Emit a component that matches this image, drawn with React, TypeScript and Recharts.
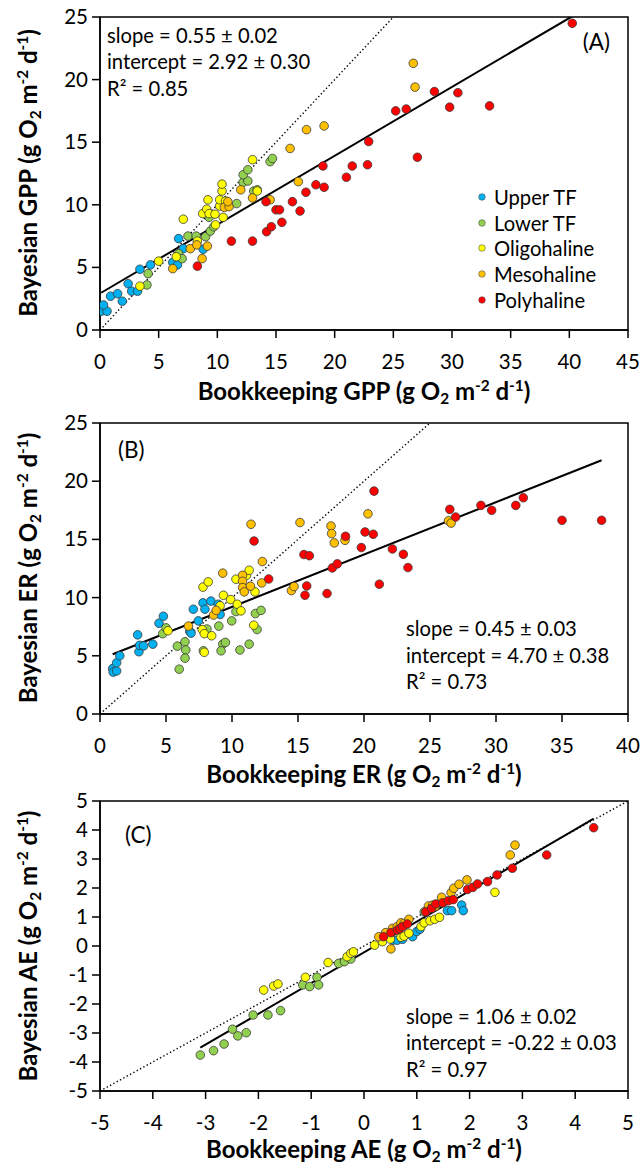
import React from "react";
import {
  ScatterChart,
  Scatter,
  XAxis,
  YAxis,
  ReferenceLine,
  ReferenceArea,
  Legend,
} from "recharts";

const FONT = "Lato, 'Open Sans', sans-serif";
const TICK_FONT_SIZE = 20.5;
const TEXT_FONT_SIZE = 20.2;
const TITLE_FONT_SIZE = 24;

const SITES = ["Upper TF", "Lower TF", "Oligohaline", "Mesohaline", "Polyhaline"];
const SITE_COLORS = ["#00B0F0", "#92D050", "#FFFF00", "#FFC000", "#FF0000"];

type Pair = [number, number];

// (A) gross primary production, bookkeeping (x) vs Bayesian (y)
const gppUpperTF: Pair[] = [
  [0.1, 1.5], [0.6, 1.5], [0.3, 2.0], [0.9, 2.7], [1.5, 2.9], [1.9, 2.3], [2.4, 3.7], [2.7, 3.1],
  [3.2, 3.1], [3.4, 4.85], [4.3, 5.2], [6.2, 5.4], [6.6, 5.2], [6.7, 7.3], [7.1, 6.5], [8.8, 6.45],
];
const gppLowerTF: Pair[] = [
  [4.0, 3.6], [4.1, 4.5], [6.7, 6.1], [7.0, 5.7], [7.5, 7.5], [8.2, 7.5], [9.0, 7.45], [9.4, 7.9],
  [9.7, 8.25], [9.3, 9.0], [11.65, 10.1], [13.1, 11.1], [13.4, 11.2], [12.2, 11.8], [12.6, 11.9],
  [12.2, 12.4], [12.6, 12.8], [14.5, 13.45], [14.7, 13.7],
];
const gppOligohaline: Pair[] = [
  [3.4, 3.5], [5.0, 5.5], [6.5, 5.85], [7.1, 8.85], [8.3, 7.1], [8.75, 9.3], [9.1, 9.65], [9.3, 9.3],
  [9.2, 10.4], [9.8, 9.25], [9.85, 8.4], [10.2, 9.9], [10.2, 10.4], [10.5, 9.0], [10.4, 11.1],
  [10.4, 11.65], [10.7, 10.3], [13.0, 13.6], [13.4, 11.1],
];
const gppMesohaline: Pair[] = [
  [6.2, 4.9], [7.7, 6.5], [8.25, 6.8], [8.7, 5.7], [9.15, 6.7], [10.6, 9.8], [11.0, 9.85], [10.9, 10.25],
  [12.0, 11.2], [13.0, 10.55], [14.5, 10.4], [16.2, 14.5], [16.9, 11.85], [17.6, 16.0], [19.1, 16.3],
  [26.7, 21.3], [26.85, 19.4],
];
const gppPolyhaline: Pair[] = [
  [8.3, 5.1], [11.2, 7.1], [13.0, 7.1], [14.2, 7.85], [14.6, 8.25], [15.5, 8.6], [14.15, 10.25],
  [15.0, 9.6], [15.3, 9.6], [16.4, 10.25], [17.05, 9.5], [17.55, 11.0], [18.4, 11.6], [19.1, 11.4],
  [19.0, 13.1], [21.0, 12.2], [21.5, 13.1], [22.8, 13.2], [22.9, 15.05], [25.2, 17.5], [26.1, 17.65],
  [27.05, 13.8], [28.5, 19.05], [29.8, 17.8], [30.5, 18.95], [33.2, 17.9], [40.25, 24.5],
];

// (B) ecosystem respiration
const erUpperTF: Pair[] = [
  [0.96, 3.9], [1.0, 3.6], [1.26, 3.7], [1.26, 4.4], [1.5, 5.0], [2.85, 6.8], [2.95, 5.35], [3.0, 5.9],
  [3.3, 5.85], [4.0, 6.0], [4.47, 7.8], [4.8, 8.4], [6.8, 7.1], [6.9, 6.95], [7.07, 9.0], [7.45, 8.0],
  [7.8, 9.55], [7.95, 9.0], [8.4, 9.7], [8.96, 9.43], [9.1, 8.55],
];
const erLowerTF: Pair[] = [
  [4.75, 6.9], [5.0, 7.4], [5.86, 5.83], [6.0, 3.85], [6.44, 6.2], [6.5, 5.5], [6.44, 4.8], [7.83, 5.43],
  [8.1, 7.3], [9.0, 7.55], [9.3, 6.0], [9.5, 6.15], [9.17, 5.43], [9.98, 8.0], [10.3, 8.8], [10.6, 5.5],
  [11.3, 6.0], [11.77, 8.63], [12.2, 8.9], [11.9, 7.26],
];
const erOligohaline: Pair[] = [
  [5.15, 7.15], [7.75, 7.25], [7.9, 6.9], [8.46, 6.72], [7.9, 5.3], [7.8, 10.9], [8.2, 11.35],
  [9.35, 10.2], [9.1, 9.3], [9.9, 9.83], [10.4, 9.43], [10.68, 8.86], [10.3, 11.58], [11.1, 11.92],
  [11.3, 12.35], [11.74, 10.49], [11.65, 7.63],
];
const erMesohaline: Pair[] = [
  [6.7, 7.55], [8.6, 8.5], [8.8, 8.9], [9.3, 12.1], [10.8, 11.92], [10.8, 11.4], [10.8, 10.86],
  [11.4, 10.98], [10.93, 10.49], [12.25, 11.26], [12.3, 13.1], [11.44, 16.3], [14.5, 10.6],
  [14.7, 10.95], [15.15, 16.45], [17.5, 16.15], [17.55, 15.5], [17.75, 14.7], [18.56, 14.92],
  [20.3, 17.2], [26.4, 16.6], [26.6, 16.4],
];
const erPolyhaline: Pair[] = [
  [11.67, 14.86], [12.78, 11.6], [15.45, 13.7], [15.86, 13.6], [15.66, 11.0], [15.53, 10.2],
  [17.2, 10.35], [17.6, 12.55], [17.98, 12.9], [18.6, 15.27], [19.8, 14.3], [20.08, 15.64],
  [20.7, 15.44], [20.76, 19.15], [21.16, 11.15], [22.15, 14.18], [22.98, 13.72], [23.33, 12.58],
  [26.5, 17.58], [26.94, 16.92], [28.86, 17.92], [29.67, 17.5], [31.5, 17.92], [32.07, 18.58],
  [35.0, 16.64], [38.0, 16.64],
];

// (C) aquatic ecosystem metabolism
const aeUpperTF: Pair[] = [
  [0.55, 0.2], [0.63, 0.2], [0.73, 0.23], [0.92, 0.32], [1.0, 0.5], [1.06, 0.58], [1.58, 1.22],
  [1.66, 1.22], [1.85, 1.41], [1.88, 1.22],
];
const aeLowerTF: Pair[] = [
  [-3.1, -3.76], [-2.85, -3.61], [-2.65, -3.38], [-2.49, -2.87], [-2.39, -3.1], [-2.23, -2.99],
  [-2.1, -2.38], [-1.82, -2.38], [-1.58, -2.23], [-1.16, -1.34], [-1.03, -1.4], [-0.89, -1.08],
  [-0.86, -1.34], [-0.48, -0.6], [-0.37, -0.54], [-0.25, -0.45], [1.14, 1.18],
];
const aeOligohaline: Pair[] = [
  [-1.9, -1.52], [-1.71, -1.38], [-1.63, -1.31], [-1.11, -1.08], [-0.68, -0.57], [-0.32, -0.37],
  [-0.25, -0.25], [-0.2, -0.2], [0.2, 0.03], [0.35, 0.15], [0.5, 0.24], [0.7, 0.3], [0.76, 0.34],
  [0.85, 0.44], [1.08, 0.67], [1.14, 0.8], [1.25, 0.87], [1.34, 0.92], [1.43, 0.99], [2.48, 1.85],
];
const aeMesohaline: Pair[] = [
  [0.28, 0.32], [0.41, 0.46], [0.51, -0.1], [0.54, 0.61], [0.63, 0.67], [0.7, 0.8], [0.76, 0.78],
  [0.85, 0.92], [1.22, 1.38], [1.3, 1.41], [1.35, 1.36], [1.47, 1.68], [1.65, 1.84], [1.7, 1.99],
  [1.8, 2.13], [1.95, 2.28], [2.77, 3.14], [2.86, 3.48],
];
const aePolyhaline: Pair[] = [
  [0.37, 0.32], [0.51, 0.46], [0.63, 0.55], [0.68, 0.6], [0.73, 0.67], [0.82, 0.76], [1.17, 1.18],
  [1.28, 1.3], [1.36, 1.45], [1.49, 1.49], [1.6, 1.56], [1.69, 1.6], [1.96, 1.95], [2.06, 2.02],
  [2.15, 2.14], [2.34, 2.22], [2.52, 2.45], [2.81, 2.68], [3.46, 3.14], [4.35, 4.08],
];

const GPP_X_TICKS = [0, 5, 10, 15, 20, 25, 30, 35, 40, 45];
const ER_X_TICKS = [0, 5, 10, 15, 20, 25, 30, 35, 40];
const RATE_Y_TICKS = [0, 5, 10, 15, 20, 25];
const AE_TICKS = [-5, -4, -3, -2, -1, 0, 1, 2, 3, 4, 5];

// regression statistics printed in each panel
const GPP_FIT = { slope: 0.55, slopeErr: 0.02, intercept: 2.92, interceptErr: 0.3, r2: 0.85 };
const ER_FIT = { slope: 0.45, slopeErr: 0.03, intercept: 4.7, interceptErr: 0.38, r2: 0.73 };
const AE_FIT = { slope: 1.06, slopeErr: 0.02, intercept: -0.22, interceptErr: 0.03, r2: 0.97 };

type Fit = typeof GPP_FIT;

const toPoints = (pairs: Pair[]) => pairs.map(([x, y]) => ({ x, y }));

function Dot(props: any) {
  const { cx, cy, fill } = props;
  if (cx == null || cy == null) return null;
  return <circle cx={cx} cy={cy} r={4.3} fill={fill} stroke="#3a3a3a" strokeWidth={0.8} />;
}

function XTick(props: any) {
  const { x, y, payload } = props;
  return (
    <text x={x} y={y + 31} textAnchor="middle" fontFamily={FONT} fontSize={TICK_FONT_SIZE} fill="#000">
      {payload.value}
    </text>
  );
}

function YTick(props: any) {
  const { x, y, payload } = props;
  return (
    <text x={x} y={y + 7} textAnchor="end" fontFamily={FONT} fontSize={TICK_FONT_SIZE} fill="#000">
      {payload.value}
    </text>
  );
}

function SiteLegend() {
  return (
    <div style={{ fontFamily: FONT, fontSize: TEXT_FONT_SIZE, color: "#000" }}>
      {SITES.map((site, i) => (
        <div key={site} style={{ display: "flex", alignItems: "center", height: 25.8 }}>
          <svg width={12} height={12} style={{ flex: "none" }}>
            <circle cx={6} cy={6} r={3.3} fill={SITE_COLORS[i]} stroke="#555" strokeWidth={0.6} />
          </svg>
          <span style={{ marginLeft: 6, lineHeight: "20px" }}>{site}</span>
        </div>
      ))}
    </div>
  );
}

interface PanelProps {
  top: number;
  height: number;
  marginTop: number;
  plotHeight: number;
  series: Pair[][];
  xDomain: [number, number];
  yDomain: [number, number];
  xTicks: number[];
  yTicks: number[];
  fit: Fit;
  diagonal: [number, number];
  showLegend?: boolean;
}

function Panel({
  top, height, marginTop, plotHeight, series, xDomain, yDomain, xTicks, yTicks, fit, diagonal, showLegend,
}: PanelProps) {
  // the fitted line runs across the range of bookkeeping values
  const xs = series.flatMap((s) => s.map((p) => p[0]));
  const x0 = Math.min(...xs);
  const x1 = Math.max(...xs);
  const fitLine = [
    { x: x0, y: fit.slope * x0 + fit.intercept },
    { x: x1, y: fit.slope * x1 + fit.intercept },
  ];
  const axisStyle = { stroke: "#000", strokeWidth: 1.5 };

  return (
    <div style={{ position: "absolute", left: 0, top }}>
      <ScatterChart width={641} height={height} margin={{ top: marginTop, right: 13, bottom: 0, left: 0 }}>
        <XAxis
          type="number"
          dataKey="x"
          domain={xDomain}
          ticks={xTicks}
          interval={0}
          allowDataOverflow
          height={height - marginTop - plotHeight}
          tickSize={8}
          tickMargin={0}
          axisLine={axisStyle}
          tickLine={axisStyle}
          tick={<XTick />}
        />
        <YAxis
          type="number"
          dataKey="y"
          domain={yDomain}
          ticks={yTicks}
          interval={0}
          allowDataOverflow
          width={100}
          tickSize={8}
          tickMargin={4}
          axisLine={axisStyle}
          tickLine={axisStyle}
          tick={<YTick />}
        />
        <ReferenceArea
          x1={xDomain[0]}
          x2={xDomain[1]}
          y1={yDomain[0]}
          y2={yDomain[1]}
          fill="none"
          fillOpacity={0}
          stroke="#000"
          strokeWidth={1.5}
          strokeOpacity={1}
        />
        {series.map((pairs, i) => (
          <Scatter
            key={SITES[i]}
            name={SITES[i]}
            data={toPoints(pairs)}
            fill={SITE_COLORS[i]}
            shape={<Dot />}
            isAnimationActive={false}
          />
        ))}
        <ReferenceLine
          segment={[
            { x: diagonal[0], y: diagonal[0] },
            { x: diagonal[1], y: diagonal[1] },
          ]}
          ifOverflow="hidden"
          stroke="#000"
          strokeWidth={1.4}
          strokeDasharray="1.4 2.4"
        />
        <ReferenceLine segment={fitLine} ifOverflow="hidden" stroke="#000" strokeWidth={2} />
        {showLegend && (
          <Legend
            layout="vertical"
            align="center"
            verticalAlign="middle"
            content={<SiteLegend />}
            wrapperStyle={{ left: 476, top: 184, width: 150, right: "auto", bottom: "auto" }}
          />
        )}
      </ScatterChart>
    </div>
  );
}

function UnitsTitle({ x, y, label, vertical }: { x: number; y: number; label: string; vertical?: boolean }) {
  const small = TITLE_FONT_SIZE * 0.64;
  return (
    <text
      x={x}
      y={y}
      textAnchor="middle"
      fontFamily={FONT}
      fontWeight={700}
      fontSize={TITLE_FONT_SIZE}
      fill="#000"
      transform={vertical ? `rotate(-90 ${x} ${y})` : undefined}
    >
      {label} (g O
      <tspan fontSize={small} dy={4}>2</tspan>
      <tspan dy={-4}> m</tspan>
      <tspan fontSize={small} dy={-9}>-2</tspan>
      <tspan dy={9}> d</tspan>
      <tspan fontSize={small} dy={-9}>-1</tspan>
      <tspan dy={9}>)</tspan>
    </text>
  );
}

function FitText({ x, y, fit }: { x: number; y: number; fit: Fit }) {
  const lines = [
    `slope = ${fit.slope.toFixed(2)} ± ${fit.slopeErr.toFixed(2)}`,
    `intercept = ${fit.intercept.toFixed(2)} ± ${fit.interceptErr.toFixed(2)}`,
    `R² = ${fit.r2.toFixed(2)}`,
  ];
  return (
    <g fontFamily={FONT} fontSize={TEXT_FONT_SIZE} fill="#000">
      {lines.map((line, i) => (
        <text key={line} x={x} y={y + i * 26.6}>
          {line}
        </text>
      ))}
    </g>
  );
}

export default function App() {
  return (
    <div style={{ position: "relative", width: 641, height: 1167, background: "#fff" }}>
      <style>{"body { margin: 0; }"}</style>
      <Panel
        top={0}
        height={405}
        marginTop={17}
        plotHeight={313}
        series={[gppUpperTF, gppLowerTF, gppOligohaline, gppMesohaline, gppPolyhaline]}
        xDomain={[0, 45]}
        yDomain={[0, 25]}
        xTicks={GPP_X_TICKS}
        yTicks={RATE_Y_TICKS}
        fit={GPP_FIT}
        diagonal={[0, 25]}
        showLegend
      />
      <Panel
        top={405}
        height={384}
        marginTop={18}
        plotHeight={291}
        series={[erUpperTF, erLowerTF, erOligohaline, erMesohaline, erPolyhaline]}
        xDomain={[0, 40]}
        yDomain={[0, 25]}
        xTicks={ER_X_TICKS}
        yTicks={RATE_Y_TICKS}
        fit={ER_FIT}
        diagonal={[0, 25]}
      />
      <Panel
        top={789}
        height={378}
        marginTop={12}
        plotHeight={290}
        series={[aeUpperTF, aeLowerTF, aeOligohaline, aeMesohaline, aePolyhaline]}
        xDomain={[-5, 5]}
        yDomain={[-5, 5]}
        xTicks={AE_TICKS}
        yTicks={AE_TICKS}
        fit={AE_FIT}
        diagonal={[-5, 5]}
      />
      <svg
        width={641}
        height={1167}
        style={{ position: "absolute", left: 0, top: 0, pointerEvents: "none" }}
      >
        <FitText x={107} y={42.5} fit={GPP_FIT} />
        <text x={610} y={50} textAnchor="end" fontFamily={FONT} fontSize={22.5}>(A)</text>
        <UnitsTitle x={364} y={400} label="Bookkeeping GPP" />
        <UnitsTitle x={37} y={173} label="Bayesian GPP" vertical />

        <FitText x={406} y={636} fit={ER_FIT} />
        <text x={118} y={458} fontFamily={FONT} fontSize={22.5}>(B)</text>
        <UnitsTitle x={364} y={783} label="Bookkeeping ER" />
        <UnitsTitle x={37} y={568} label="Bayesian ER" vertical />

        <FitText x={406} y={1023.5} fit={AE_FIT} />
        <text x={125} y={843} fontFamily={FONT} fontSize={22.5}>(C)</text>
        <UnitsTitle x={364} y={1158} label="Bookkeeping AE" />
        <UnitsTitle x={37} y={946} label="Bayesian AE" vertical />
      </svg>
    </div>
  );
}
